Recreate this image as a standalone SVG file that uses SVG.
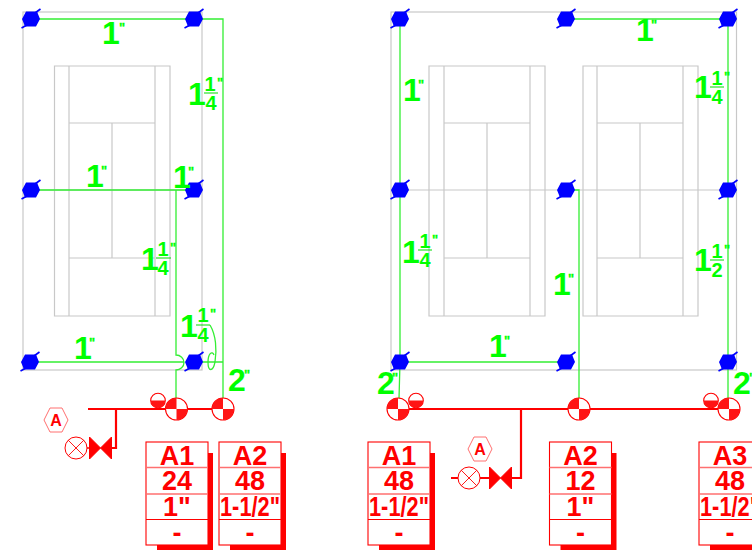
<svg xmlns="http://www.w3.org/2000/svg" xmlns:xlink="http://www.w3.org/1999/xlink" width="752" height="550" viewBox="0 0 752 550">
<style>
text{font-family:"Liberation Sans",Arial,sans-serif;font-weight:bold}
.g{fill:#00ff00;font-size:32px;transform:translateX(1px)}
.n{fill:#00ff00;font-size:20px;text-anchor:middle}
.q{fill:#00ff00;font-size:13px;stroke:#00ff00;stroke-width:0.3;transform:translateY(1.5px)}
.t{fill:#ff0000;font-size:27px;text-anchor:middle}
.court{fill:none;stroke:#c8c8c8;stroke-width:1.2}
.pipe{fill:none;stroke:#33ee33;stroke-width:1.3}
.red{fill:none;stroke:#ff0000;stroke-width:1.3}
.main{fill:none;stroke:#ff0000;stroke-width:2.2}
.frac{stroke:#00dd00;stroke-width:1}
.hexlabel{fill:#ff0000;font-size:16px;text-anchor:middle}
</style>
<defs>
<g id="spr"><polygon points="-9,0 -5,-7.500 6,-7.500 9,0 5,7.500 -6,7.500" fill="#0000ff"/><path d="M-9.500,9L-4,6M4,-6L9.500,-10" stroke="#0000ff" stroke-width="1.6"/></g>
<g id="val"><circle r="11" fill="#fff" stroke="#ff0000" stroke-width="1.1"/><path d="M0,0V-11A11,11 0 0 0 -11,0ZM0,0V11A11,11 0 0 0 11,0Z" fill="#ff1515"/></g>
<g id="small"><circle r="7.3" fill="#fff" stroke="#ff0000" stroke-width="1.1"/><path d="M-7.3,0A7.3,7.3 0 0 0 7.3,0Z" fill="#ff1515"/></g>
<g id="cx"><circle r="11" fill="#fff" stroke="#ff0000" stroke-width="1"/><path d="M-7.8,-7.8L7.8,7.8M-7.8,7.8L7.8,-7.8" stroke="#ff0000" stroke-width="0.9"/></g>
<polygon id="bow" points="-11,-11 0,0 11,-11 11,11 0,0 -11,11" fill="#ff0000" stroke="#ff0000" stroke-width="1"/>
<polygon id="hex" points="-12,0 -6,-12 6,-12 12,0 6,12 -6,12" fill="#fff" stroke="#ff7070" stroke-width="1"/>
<g id="tbl"><polygon points="62,11 67,11 67,108 11,108 11,103 62,103" fill="#ff0000"/><rect x="0" y="0" width="62" height="103" fill="#fff" stroke="#ff0000" stroke-width="1.1"/><path d="M0,25.5H62M0,52H62" stroke="#ff7070" stroke-width="1.4"/><path d="M0,77.5H62" stroke="#ff0000" stroke-width="1"/></g>
</defs>

<g id="courts">
<rect class="court" x="23" y="12" width="179" height="358"/>
<path class="court" d="M23,190H202M54.5,66H170V316H54.5ZM69,66V316M155,66V316M69,123H155M69,258H155M112,123V258"/>
<rect class="court" x="391" y="12" width="345.500" height="358"/>
<path class="court" d="M391,190H736M429,66H545V316H429ZM444,66V316M530,66V316M444,123H530M444,258H530M487,123V258"/>
<path class="court" d="M583,66H698V316H583ZM597,66V316M683,66V316M597,123H683M597,258H683M640,123V258"/>
</g>

<g id="connectors">
<path class="pipe" d="M31,19H223V399M31,190H194M176,190V355A8,7.500 0 0 1 176,370V399M31,362H184M194,362H223"/>
<path class="pipe" d="M210,325C216,335 217,350 215,362C213,372 208,372 208,362C208,354 212,350 214,355"/>
<path class="pipe" d="M400,19V362L399,399M400,362H566M566,19H728V399M566,190H579V399"/>
<path class="main" d="M88,409H213M116,409V448H111"/>
<path class="red" d="M87,448H89"/>
<path class="main" d="M409,409H718M521,409V478H512"/>
<path class="main" d="M451,478H458M480,478H489"/>
</g>

<g id="sprinklers">
<use xlink:href="#spr" href="#spr" x="31" y="19"/><use xlink:href="#spr" href="#spr" x="194" y="19"/>
<use xlink:href="#spr" href="#spr" x="31" y="190"/><use xlink:href="#spr" href="#spr" x="194" y="190"/>
<use xlink:href="#spr" href="#spr" x="30" y="362"/><use xlink:href="#spr" href="#spr" x="194" y="362"/>
<use xlink:href="#spr" href="#spr" x="400" y="19"/><use xlink:href="#spr" href="#spr" x="566" y="19"/><use xlink:href="#spr" href="#spr" x="728" y="19"/>
<use xlink:href="#spr" href="#spr" x="400" y="190"/><use xlink:href="#spr" href="#spr" x="566" y="190"/><use xlink:href="#spr" href="#spr" x="728" y="190"/>
<use xlink:href="#spr" href="#spr" x="400" y="362"/><use xlink:href="#spr" href="#spr" x="566" y="362"/><use xlink:href="#spr" href="#spr" x="728" y="362"/>
</g>

<g id="valves">
<use xlink:href="#val" href="#val" x="176.500" y="409"/><use xlink:href="#val" href="#val" x="223" y="409"/>
<use xlink:href="#small" href="#small" x="158" y="400.500"/>
<use xlink:href="#val" href="#val" x="398" y="409"/><use xlink:href="#val" href="#val" x="579" y="409"/><use xlink:href="#val" href="#val" x="729" y="409"/>
<use xlink:href="#small" href="#small" x="416" y="400.500"/><use xlink:href="#small" href="#small" x="711" y="400.500"/>
</g>

<g id="control-a-left">
<use xlink:href="#hex" href="#hex" x="56" y="420"/><text class="hexlabel" x="56" y="426">A</text>
<use xlink:href="#cx" href="#cx" x="76" y="448"/><use xlink:href="#bow" href="#bow" x="100.500" y="448"/>
</g>
<g id="control-a-right">
<use xlink:href="#hex" href="#hex" x="480" y="449"/><text class="hexlabel" x="480" y="455">A</text>
<use xlink:href="#cx" href="#cx" x="469" y="478"/><use xlink:href="#bow" href="#bow" x="500.500" y="478"/>
</g>

<g id="labels">
<text class="g" x="101" y="44">1</text><text class="q" x="119" y="30">"</text>
<text class="g" x="187" y="105">1</text><text class="n" x="210" y="91">1</text><line class="frac" x1="204" y1="93" x2="218" y2="93"/><text class="n" x="211" y="110">4</text><text class="q" x="217" y="85">"</text>
<text class="g" x="85" y="187">1</text><text class="q" x="101" y="173">"</text>
<text class="g" x="172" y="188">1</text><text class="q" x="188" y="174">"</text>
<text class="g" x="140" y="270">1</text><text class="n" x="163" y="256">1</text><line class="frac" x1="156" y1="258" x2="171" y2="258"/><text class="n" x="163" y="275">4</text><text class="q" x="170" y="250">"</text>
<text class="g" x="179" y="337">1</text><text class="n" x="203" y="322">1</text><line class="frac" x1="196" y1="325" x2="210" y2="325"/><text class="n" x="203" y="342">4</text><text class="q" x="210" y="316">"</text>
<text class="g" x="73" y="359">1</text><text class="q" x="89" y="345">"</text>
<text class="g" x="227" y="391">2</text><text class="q" x="244" y="377">"</text>

<text class="g" x="635" y="41">1</text><text class="q" x="651" y="27">"</text>
<text class="g" x="693" y="98">1</text><text class="n" x="717" y="85">1</text><line class="frac" x1="710" y1="87" x2="724" y2="87"/><text class="n" x="717" y="104">4</text><text class="q" x="724" y="79">"</text>
<text class="g" x="402" y="101">1</text><text class="q" x="418" y="87">"</text>
<text class="g" x="401" y="263">1</text><text class="n" x="425" y="248">1</text><line class="frac" x1="418" y1="250" x2="432" y2="250"/><text class="n" x="425" y="267">4</text><text class="q" x="432" y="242">"</text>
<text class="g" x="552" y="295">1</text><text class="q" x="568" y="281">"</text>
<text class="g" x="693" y="271">1</text><text class="n" x="717" y="258">1</text><line class="frac" x1="710" y1="260" x2="724" y2="260"/><text class="n" x="717" y="277">2</text><text class="q" x="724" y="252">"</text>
<text class="g" x="488" y="357">1</text><text class="q" x="504" y="343">"</text>
<text class="g" x="376" y="394">2</text><text class="q" x="392" y="380">"</text>
<text class="g" x="732" y="394">2</text><text class="q" x="749" y="380">"</text>
</g>

<g id="table-left-a1" transform="translate(146,442)"><use xlink:href="#tbl" href="#tbl"/>
<text class="t" x="31" y="23">A1</text><text class="t" x="31" y="48">24</text><text class="t" x="31" y="74">1"</text><text class="t" x="31" y="100">-</text></g>
<g id="table-left-a2" transform="translate(219,442)"><use xlink:href="#tbl" href="#tbl"/>
<text class="t" x="31" y="23">A2</text><text class="t" x="31" y="48">48</text><text class="t" x="31" y="74" textLength="60" lengthAdjust="spacingAndGlyphs">1-1/2"</text><text class="t" x="31" y="100">-</text></g>
<g id="table-right-a1" transform="translate(368,442)"><use xlink:href="#tbl" href="#tbl"/>
<text class="t" x="31" y="23">A1</text><text class="t" x="31" y="48">48</text><text class="t" x="31" y="74" textLength="60" lengthAdjust="spacingAndGlyphs">1-1/2"</text><text class="t" x="31" y="100">-</text></g>
<g id="table-right-a2" transform="translate(549.500,442)"><use xlink:href="#tbl" href="#tbl"/>
<text class="t" x="31" y="23">A2</text><text class="t" x="31" y="48">12</text><text class="t" x="31" y="74">1"</text><text class="t" x="31" y="100">-</text></g>
<g id="table-right-a3" transform="translate(699,442)"><use xlink:href="#tbl" href="#tbl"/>
<text class="t" x="31" y="23">A3</text><text class="t" x="31" y="48">48</text><text class="t" x="31" y="74" textLength="60" lengthAdjust="spacingAndGlyphs">1-1/2"</text><text class="t" x="31" y="100">-</text></g>
</svg>
